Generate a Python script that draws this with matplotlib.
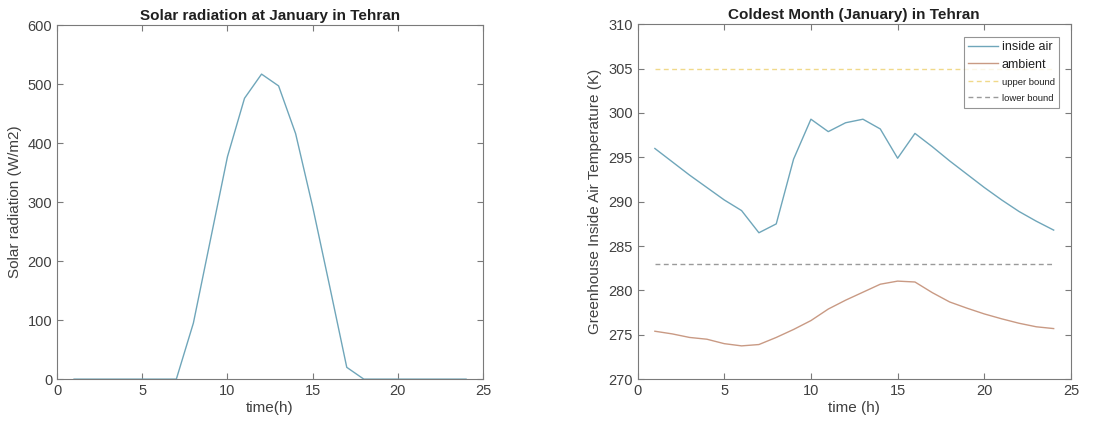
import matplotlib.pyplot as plt

plt.rcParams['font.family'] = ['Liberation Sans', 'DejaVu Sans']

# datos
horas = list(range(1, 25))
radiacion = [0, 0, 0, 0, 0, 0, 0, 95, 236, 377, 476, 517, 497, 416, 292, 157, 20,
             0, 0, 0, 0, 0, 0, 0]
temp_interior = [296.0, 294.5, 293.0, 291.6, 290.2, 289.0, 286.5, 287.5, 294.8, 299.3,
                 297.9, 298.9, 299.3, 298.2, 294.9, 297.7, 296.2, 294.6, 293.1, 291.6,
                 290.2, 288.9, 287.8, 286.8]
temp_ambiente = [275.4, 275.1, 274.7, 274.5, 274.0, 273.75, 273.9, 274.7, 275.6, 276.6,
                 277.9, 278.9, 279.8, 280.7, 281.05, 280.95, 279.75, 278.7, 278.0, 277.35,
                 276.8, 276.3, 275.9, 275.7]
limite_sup = 305
limite_inf = 283

texto = '#404040'
borde = '#7a7a7a'


def estilo(ax):
    for s in ax.spines.values():
        s.set_color(borde)
        s.set_linewidth(0.8)
    ax.tick_params(direction='in', top=True, right=True, colors=borde,
                   labelcolor=texto, labelsize=10.5, length=4)


fig = plt.figure(figsize=(11.03, 4.26), dpi=100)

ax1 = fig.add_axes([0.0517, 0.110, 0.3863, 0.831])
ax1.plot(horas, radiacion, color='#6fa6ba', linewidth=1.0)
ax1.set_xlim(0, 25)
ax1.set_ylim(0, 600)
ax1.set_xticks([0, 5, 10, 15, 20, 25])
ax1.set_title('Solar radiation at January in Tehran', fontsize=11, fontweight='bold',
              color='#202020', pad=4)
ax1.set_xlabel('time(h)', fontsize=11, color=texto, labelpad=2)
ax1.set_ylabel('Solar radiation (W/m2)', fontsize=11, color=texto, labelpad=4)
estilo(ax1)

ax2 = fig.add_axes([0.578, 0.110, 0.393, 0.833])
ax2.plot(horas, temp_interior, color='#6fa6ba', linewidth=1.0, label='inside air')
ax2.plot(horas, temp_ambiente, color='#c99a84', linewidth=1.0, label='ambient')
ax2.plot([horas[0], horas[-1]], [limite_sup, limite_sup], color='#f0d98a',
         linewidth=1.0, linestyle='--', dashes=(3.5, 2.5), label='upper bound')
ax2.plot([horas[0], horas[-1]], [limite_inf, limite_inf], color='#9a9a9a',
         linewidth=1.0, linestyle='--', dashes=(3.5, 2.5), label='lower bound')
ax2.set_xlim(0, 25)
ax2.set_ylim(270, 310)
ax2.set_xticks([0, 5, 10, 15, 20, 25])
ax2.set_title('Coldest Month (January) in Tehran', fontsize=11, fontweight='bold',
              color='#202020', pad=4)
ax2.set_xlabel('time (h)', fontsize=11, color=texto, labelpad=2)
ax2.set_ylabel('Greenhouse Inside Air Temperature (K)', fontsize=11, color=texto,
               labelpad=4)
estilo(ax2)

leg = ax2.legend(loc='upper right', bbox_to_anchor=(0.972, 0.965), fontsize=9,
                 frameon=True, fancybox=False, edgecolor=borde, handlelength=2.4,
                 handletextpad=0.25, borderpad=0.35, labelspacing=0.45,
                 borderaxespad=0)
leg.get_frame().set_linewidth(0.8)
for i, t in enumerate(leg.get_texts()):
    t.set_color('#202020')
    if i >= 2:
        t.set_fontsize(6.8)

fig.savefig('out.png', dpi=100)
